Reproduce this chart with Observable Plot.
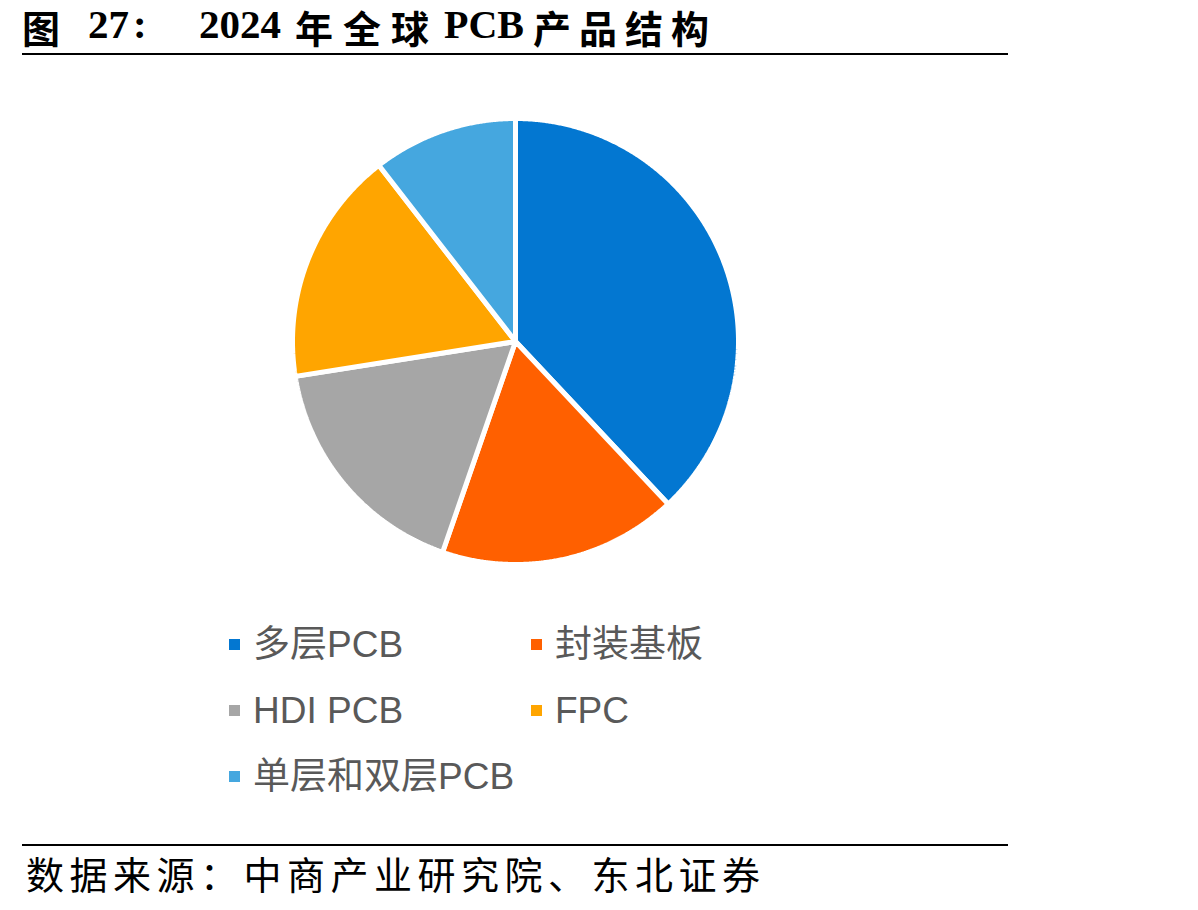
<!DOCTYPE html>
<html>
<head>
<meta charset="utf-8">
<script src="https://cdn.jsdelivr.net/npm/d3@7"></script>
<script src="https://cdn.jsdelivr.net/npm/@observablehq/plot@0.6"></script>
<style>
  body { margin:0; background:#fff; width:1198px; height:910px; position:relative; overflow:hidden; }
  .rule { position:absolute; left:22px; width:986px; height:2px; background:#000; }
  .tc { position:absolute; top:8px; font-weight:bold; font-size:38px; line-height:1; font-family:"Noto Sans CJK SC",sans-serif; white-space:pre; color:#000; letter-spacing:10px; }
  .tl { position:absolute; top:4px; font-weight:bold; font-size:41px; line-height:1; font-family:"Liberation Serif",serif; white-space:pre; color:#000; }
  #source { position:absolute; left:26px; top:845px; font-size:38px; font-family:"Noto Sans CJK SC",sans-serif; white-space:pre; color:#000; letter-spacing:5.5px; }
  #chart { position:absolute; left:283px; top:109px; }
  .lg { position:absolute; font-size:37px; font-family:"Liberation Sans","Noto Sans CJK SC",sans-serif; color:#595959; white-space:pre; line-height:1; }
  .sw { position:absolute; width:11px; height:11px; }
</style>
</head>
<body>
<div id="title">
  <span class="tc" style="left:22px">图</span>
  <span class="tl" style="left:88px">27</span>
  <span class="tl" style="left:133px">:</span>
  <span class="tl" style="left:199px">2024</span>
  <span class="tc" style="left:295px">年全球</span>
  <span class="tl" style="left:444px;top:5px;font-size:40px">PCB</span>
  <span class="tc" style="left:533px;letter-spacing:8px">产品结构</span>
</div>
<div class="rule" style="top:53px"></div>
<div id="chart"></div>
<div id="legend"></div>
<div class="rule" style="top:844px"></div>
<div id="source">数据来源：中商产业研究院、东北证券</div>
<script>
const categories = ["多层PCB", "封装基板", "HDI PCB", "FPC", "单层和双层PCB"];
const shares = [38.0, 17.3, 17.2, 17.0, 10.5];
const colors = ["#0377D1", "#FF6000", "#A6A6A6", "#FFA500", "#45A7DF"];

const table = categories.map((name, i) => ({name, value: shares[i]}));
const arcs = d3.pie().sort(null).value(d => d.value)(table);

// polygon outline of each slice, derived from the pie angles
const points = [];
for (const a of arcs) {
  const name = a.data.name;
  points.push({name, x: 0, y: 0});
  const n = Math.max(2, Math.ceil((a.endAngle - a.startAngle) / 0.005));
  for (let k = 0; k <= n; k++) {
    const t = a.startAngle + (a.endAngle - a.startAngle) * k / n;
    points.push({name, x: Math.sin(t), y: Math.cos(t)});
  }
  points.push({name, x: 0, y: 0});
}

const size = 464;
const m = (size - 446) / 2;
const chart = Plot.plot({
  width: size,
  height: size,
  margin: m,
  x: {domain: [-1, 1], axis: null},
  y: {domain: [-1, 1], axis: null},
  color: {domain: categories, range: colors},
  marks: [
    Plot.line(points, {x: "x", y: "y", z: "name", fill: "name", stroke: "white", strokeWidth: 5, strokeLinejoin: "miter", curve: "linear"})
  ]
});
document.getElementById("chart").appendChild(chart);

// legend
const legend = document.getElementById("legend");
const colX = [229, 531];
const rowY = [645, 711, 777];
categories.forEach((name, i) => {
  const c = i % 2, r = Math.floor(i / 2);
  const sw = document.createElement("div");
  sw.className = "sw";
  sw.style.left = colX[c] + "px";
  sw.style.top = (rowY[r] - 6) + "px";
  sw.style.background = colors[i];
  legend.appendChild(sw);
  const tx = document.createElement("div");
  tx.className = "lg";
  tx.textContent = name;
  tx.style.left = (colX[c] + 24) + "px";
  tx.style.top = (rowY[r] - 19) + "px";
  legend.appendChild(tx);
});
</script>
</body>
</html>
